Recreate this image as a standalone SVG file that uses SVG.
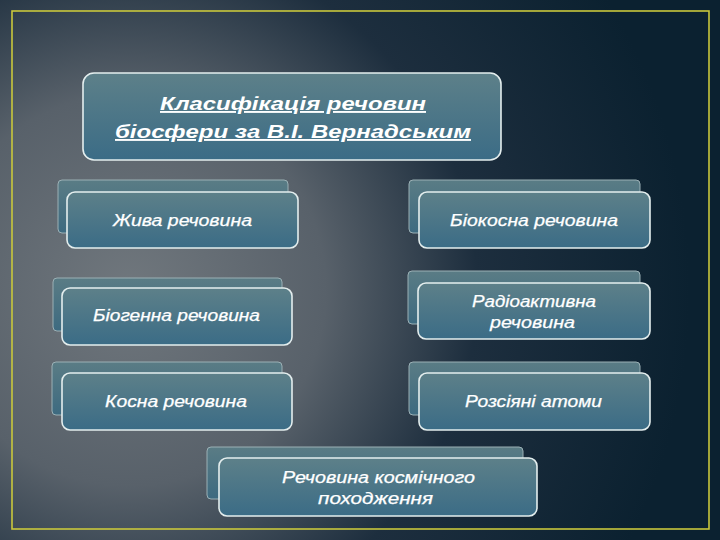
<svg xmlns="http://www.w3.org/2000/svg" width="720" height="540" viewBox="0 0 720 540">
<defs>
<radialGradient id="bg" cx="130" cy="290" r="560" gradientUnits="userSpaceOnUse">
<stop offset="0" stop-color="#70777d"/>
<stop offset="0.35" stop-color="#58616a"/>
<stop offset="0.62" stop-color="#1d2e3e"/>
<stop offset="1" stop-color="#0b2130"/>
</radialGradient>
<linearGradient id="box" x1="0" y1="0" x2="0" y2="1">
<stop offset="0" stop-color="#5d8089"/>
<stop offset="1" stop-color="#3b6c86"/>
</linearGradient>
<linearGradient id="back" x1="0" y1="0" x2="0" y2="1">
<stop offset="0" stop-color="#5a7c85"/>
<stop offset="1" stop-color="#3d6a80"/>
</linearGradient>
</defs>
<style>
.back{fill:url(#back);stroke:#9bb0b5;stroke-width:1}
.front{fill:url(#box);stroke:#e4eeee;stroke-width:1.6}
.t{font-family:"Liberation Sans",Arial,sans-serif;font-style:italic;font-size:16px;fill:#ffffff;text-anchor:middle;stroke:#ffffff;stroke-width:0.25}
.title{font-family:"Liberation Sans",Arial,sans-serif;font-style:italic;font-weight:bold;font-size:19px;fill:#ffffff;text-anchor:middle;text-decoration:underline}
</style>
<rect x="0" y="0" width="720" height="540" fill="url(#bg)"/>
<rect x="12" y="11" width="697" height="518" fill="none" stroke="#c9c73c" stroke-width="1.6"/>
<g id="title">
<rect class="front" x="83" y="73" width="418" height="87" rx="11"/>
<text class="title" x="293" y="110" textLength="266" lengthAdjust="spacingAndGlyphs">Класифікація речовин</text>
<text class="title" x="293" y="138" textLength="356" lengthAdjust="spacingAndGlyphs">біосфери за В.І. Вернадським</text>
</g>
<g id="node-zhyva">
<rect class="back" x="58" y="180" width="230" height="53" rx="4"/>
<rect class="front" x="67" y="192" width="231" height="56" rx="8"/>
<text class="t" x="182.5" y="226" textLength="139" lengthAdjust="spacingAndGlyphs">Жива речовина</text>
</g>
<g id="node-biokosna">
<rect class="back" x="409" y="180" width="231" height="53" rx="4"/>
<rect class="front" x="419" y="192" width="231" height="56" rx="8"/>
<text class="t" x="534" y="226" textLength="168" lengthAdjust="spacingAndGlyphs">Біокосна речовина</text>
</g>
<g id="node-biogenna">
<rect class="back" x="53" y="278" width="229" height="53" rx="4"/>
<rect class="front" x="62" y="288" width="230" height="57" rx="8"/>
<text class="t" x="176.5" y="321" textLength="167" lengthAdjust="spacingAndGlyphs">Біогенна речовина</text>
</g>
<g id="node-radio">
<rect class="back" x="408" y="271" width="232" height="53" rx="4"/>
<rect class="front" x="418" y="283" width="232" height="56" rx="8"/>
<text class="t" x="534" y="307" textLength="124" lengthAdjust="spacingAndGlyphs">Радіоактивна</text>
<text class="t" x="532.5" y="328" textLength="85" lengthAdjust="spacingAndGlyphs">речовина</text>
</g>
<g id="node-kosna">
<rect class="back" x="52" y="362" width="230" height="53" rx="4"/>
<rect class="front" x="62" y="373" width="230" height="57" rx="8"/>
<text class="t" x="176" y="407" textLength="142" lengthAdjust="spacingAndGlyphs">Косна речовина</text>
</g>
<g id="node-rozsiyani">
<rect class="back" x="409" y="362" width="231" height="53" rx="4"/>
<rect class="front" x="419" y="373" width="231" height="57" rx="8"/>
<text class="t" x="533.5" y="407" textLength="137" lengthAdjust="spacingAndGlyphs">Розсіяні атоми</text>
</g>
<g id="node-kosmichna">
<rect class="back" x="207" y="447" width="316" height="52" rx="4"/>
<rect class="front" x="219" y="458" width="318" height="58" rx="8"/>
<text class="t" x="378.5" y="483" textLength="193" lengthAdjust="spacingAndGlyphs">Речовина космічного</text>
<text class="t" x="375.5" y="504" textLength="115" lengthAdjust="spacingAndGlyphs">походження</text>
</g>
<g id="connectors"></g>
</svg>
